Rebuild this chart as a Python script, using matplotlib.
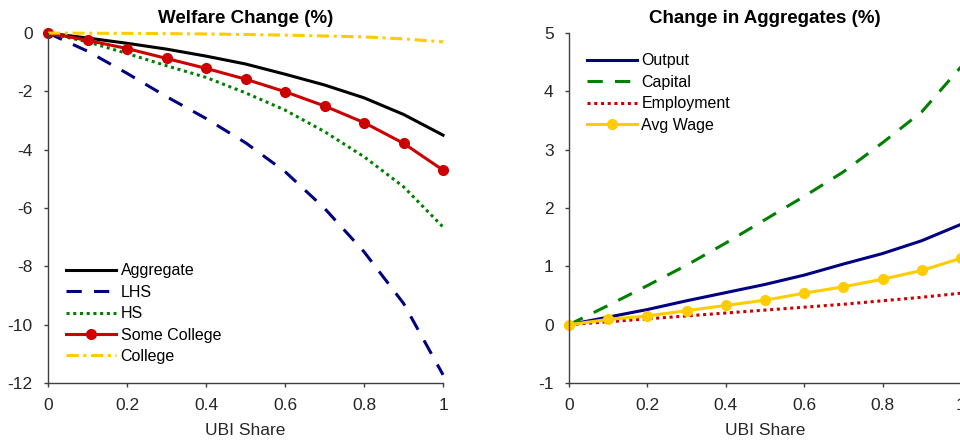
import numpy as np
import matplotlib.pyplot as plt

plt.rcParams['font.family'] = ['Liberation Sans', 'DejaVu Sans']
plt.rcParams['axes.unicode_minus'] = False

# UBI share grid
ubi_share = [0.0, 0.1, 0.2, 0.3, 0.4, 0.5, 0.6, 0.7, 0.8, 0.9, 1.0]

# Welfare change (%) by group
welfare_aggregate = [0.0, -0.17, -0.35, -0.55, -0.79, -1.06, -1.41, -1.78, -2.22, -2.79, -3.50]
welfare_lhs = [0.0, -0.62, -1.38, -2.18, -2.93, -3.76, -4.75, -6.01, -7.50, -9.27, -11.72]
welfare_hs = [0.0, -0.30, -0.70, -1.12, -1.52, -2.05, -2.64, -3.38, -4.24, -5.27, -6.65]
welfare_some_college = [0.0, -0.25, -0.53, -0.87, -1.21, -1.58, -2.01, -2.50, -3.07, -3.78, -4.70]
welfare_college = [0.0, -0.005, -0.01, -0.02, -0.03, -0.05, -0.07, -0.10, -0.13, -0.20, -0.30]

# Change in aggregates (%)
agg_output = [0.0, 0.13, 0.26, 0.41, 0.55, 0.69, 0.85, 1.04, 1.22, 1.44, 1.72]
agg_capital = [0.0, 0.33, 0.67, 1.02, 1.40, 1.80, 2.20, 2.62, 3.12, 3.65, 4.42]
agg_employment = [0.0, 0.05, 0.10, 0.15, 0.20, 0.25, 0.30, 0.35, 0.41, 0.47, 0.54]
agg_avg_wage = [0.0, 0.09, 0.15, 0.24, 0.33, 0.42, 0.54, 0.65, 0.78, 0.93, 1.14]

NAVY = '#000080'
GREEN = '#008000'
RED = '#CC0000'
GOLD = '#FFCC00'
AXCOL = '#404040'

fig = plt.figure(figsize=(9.6, 4.41), dpi=100)
ax1 = fig.add_axes([0.05, 0.1315, 0.4115, 0.7935])
ax2 = fig.add_axes([0.5927, 0.1315, 0.4083, 0.7935])

lw = 2.2
ax1.plot(ubi_share, welfare_aggregate, color='black', lw=lw, label='Aggregate')
ax1.plot(ubi_share, welfare_lhs, color=NAVY, lw=lw, ls=(0, (5, 4)), label='LHS')
ax1.plot(ubi_share, welfare_hs, color=GREEN, lw=lw, ls=(0, (1, 1.2)), label='HS')
ax1.plot(ubi_share, welfare_some_college, color=RED, lw=lw, marker='o', ms=7,
         label='Some College')
ax1.plot(ubi_share, welfare_college, color=GOLD, lw=lw, ls=(0, (4, 1.5, 1, 1.5)),
         label='College')
ax1.set_xlim(0, 1)
ax1.set_ylim(-12, 0)
ax1.set_yticks(np.arange(-12, 1, 2))
ax1.set_title('Welfare Change (%)', fontsize=13.5, fontweight='bold', pad=7)

ax2.plot(ubi_share, agg_output, color=NAVY, lw=lw, label='Output')
ax2.plot(ubi_share, agg_capital, color=GREEN, lw=lw, ls=(0, (5, 4)), label='Capital')
ax2.plot(ubi_share, agg_employment, color=RED, lw=lw, ls=(0, (1, 1.2)), label='Employment')
ax2.plot(ubi_share, agg_avg_wage, color=GOLD, lw=lw, marker='o', ms=7, label='Avg Wage')
ax2.set_xlim(0, 1)
ax2.set_ylim(-1, 5)
ax2.set_yticks(np.arange(-1, 6, 1))
ax2.set_title('Change in Aggregates (%)', fontsize=13.5, fontweight='bold', pad=7)

xt = [0, 0.2, 0.4, 0.6, 0.8, 1]
for ax in (ax1, ax2):
    ax.set_xticks(xt)
    ax.set_xticklabels(['0', '0.2', '0.4', '0.6', '0.8', '1'])
    ax.set_xlabel('UBI Share', fontsize=12.5, color='#262626', labelpad=7)
    for side in ('top', 'right'):
        ax.spines[side].set_visible(False)
    for side in ('left', 'bottom'):
        ax.spines[side].set_color(AXCOL)
        ax.spines[side].set_linewidth(1.0)
    ax.tick_params(direction='out', length=3, width=1, color=AXCOL,
                   labelsize=12.5, labelcolor='#262626', pad=8)
    for line in ax.lines:
        line.set_clip_on(False)

legend_kw = dict(loc='upper left', frameon=False, fontsize=11.5, handlelength=3.1,
                 handletextpad=0.3, labelspacing=0.4, borderaxespad=0)
ax1.legend(bbox_to_anchor=(0.03, 0.36), **legend_kw)
ax2.legend(bbox_to_anchor=(0.03, 0.96), **legend_kw)

fig.savefig('out.png', dpi=100)
